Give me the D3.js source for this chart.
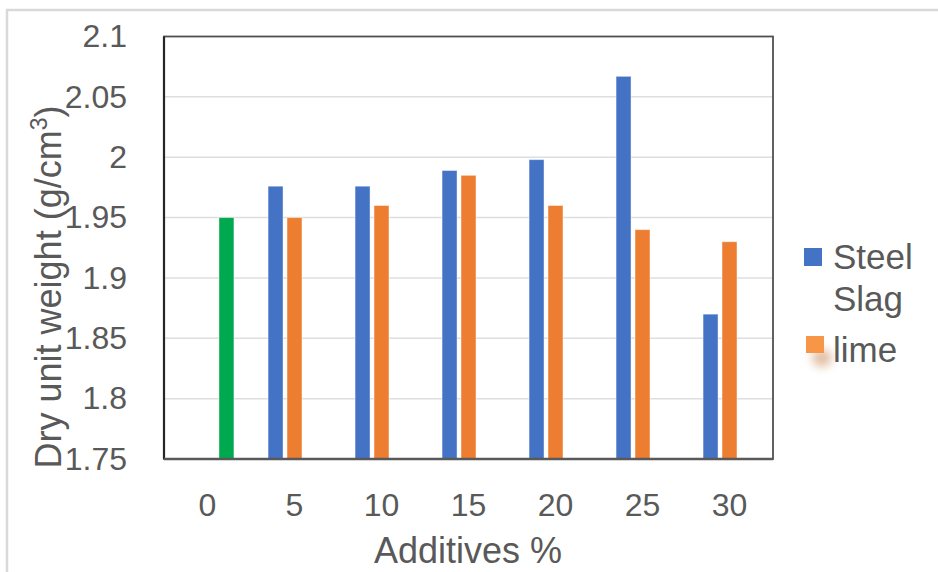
<!DOCTYPE html>
<html>
<head>
<meta charset="utf-8">
<script src="https://cdn.jsdelivr.net/npm/d3@7"></script>
<style>
  html, body { margin: 0; padding: 0; background: #fff; }
  svg { display: block; font-family: "Liberation Sans", Arial, sans-serif; }
</style>
</head>
<body>
<svg id="chart" width="938" height="572"></svg>
<script>
// Additive content (%) on the x axis
const categories = ["0", "5", "10", "15", "20", "25", "30"];
// Dry unit weight (g/cm3) per mix
const steelSlag = [null, 1.976, 1.976, 1.989, 1.998, 2.067, 1.87];
const lime      = [null, 1.95, 1.96, 1.985, 1.96, 1.94, 1.93];
const control   = [1.95, null, null, null, null, null, null];
const yTicks = [1.75, 1.8, 1.85, 1.9, 1.95, 2, 2.05, 2.1];
const seriesNames = ["Steel Slag", "lime", "control"];
const seriesColors = { "Steel Slag": "#4472C4", "lime": "#ED7D31", "control": "#00A84F" };

const svg = d3.select("#chart");
const plot = { left: 164, right: 773, top: 36.5, bottom: 459 };

// outer chart border (right and bottom sides fall outside the view)
svg.append("rect")
  .attr("x", 7).attr("y", 10).attr("width", 1000).attr("height", 700)
  .attr("fill", "none").attr("stroke", "#d9d9d9").attr("stroke-width", 2.5);

const x = d3.scaleBand().domain(categories).range([plot.left, plot.right]).padding(0);
const xs = d3.scaleBand().domain(seriesNames).range([0, x.bandwidth()])
  .paddingInner(0.21).paddingOuter(0.9);
const y = d3.scaleLinear().domain([1.75, 2.1]).range([plot.bottom, plot.top]);

// horizontal gridlines
svg.append("g").selectAll("line").data(yTicks.slice(1, -1)).join("line")
  .attr("x1", plot.left).attr("x2", plot.right)
  .attr("y1", d => y(d)).attr("y2", d => y(d))
  .attr("stroke", "#dedede").attr("stroke-width", 1.5);

// bars
const rows = [];
categories.forEach((c, i) => {
  [["Steel Slag", steelSlag], ["lime", lime], ["control", control]].forEach(([name, arr]) => {
    if (arr[i] != null) rows.push({ cat: c, series: name, value: arr[i] });
  });
});
svg.append("g").selectAll("rect").data(rows).join("rect")
  .attr("x", d => x(d.cat) + xs(d.series))
  .attr("width", xs.bandwidth())
  .attr("y", d => y(d.value))
  .attr("height", d => y(1.75) - y(d.value))
  .attr("fill", d => seriesColors[d.series])
  .attr("stroke", "rgba(255,255,255,0.45)")
  .attr("stroke-width", 1);

// plot frame
svg.append("rect")
  .attr("x", plot.left).attr("y", plot.top)
  .attr("width", plot.right - plot.left).attr("height", plot.bottom - plot.top)
  .attr("fill", "none").attr("stroke", "#505050").attr("stroke-width", 1.8);
svg.append("line")
  .attr("x1", plot.left).attr("x2", plot.left)
  .attr("y1", plot.top).attr("y2", plot.bottom)
  .attr("stroke", "#262626").attr("stroke-width", 2.2);
svg.append("line")
  .attr("x1", plot.left).attr("x2", plot.right)
  .attr("y1", plot.bottom).attr("y2", plot.bottom)
  .attr("stroke", "#595959").attr("stroke-width", 2.5);

// y tick labels
const yAxis = d3.axisLeft(y).tickValues(yTicks).tickSize(0).tickPadding(0)
  .tickFormat(d => String(d));
const gy = svg.append("g").attr("transform", `translate(127,0)`).call(yAxis);
gy.select(".domain").remove();
gy.selectAll("text").attr("font-size", 32).attr("fill", "#595959")
  .attr("font-family", "Liberation Sans, Arial, sans-serif");

// x tick labels
const xAxis = d3.axisBottom(x).tickSize(0).tickPadding(0);
const gx = svg.append("g").attr("transform", `translate(0,${plot.bottom + 34})`).call(xAxis);
gx.select(".domain").remove();
gx.selectAll("text").attr("font-size", 32).attr("fill", "#595959")
  .attr("font-family", "Liberation Sans, Arial, sans-serif");

// axis titles
svg.append("text")
  .attr("x", 468).attr("y", 563)
  .attr("text-anchor", "middle").attr("font-size", 36).attr("fill", "#595959")
  .text("Additives %");

const yt = svg.append("text")
  .attr("transform", "translate(61,287) rotate(-90)")
  .attr("text-anchor", "middle").attr("font-size", 36).attr("fill", "#595959");
yt.append("tspan").text("Dry unit weight (g/cm");
yt.append("tspan").attr("font-size", 23).attr("dy", -14).text("3");
yt.append("tspan").attr("dy", 14).text(")");

// legend
const defs = svg.append("defs");
defs.append("filter").attr("id", "soft").attr("x", "-100%").attr("y", "-100%")
  .attr("width", "300%").attr("height", "300%")
  .append("feGaussianBlur").attr("stdDeviation", 5);

const legend = svg.append("g");
legend.append("rect").attr("x", 804).attr("y", 248).attr("width", 18).attr("height", 18)
  .attr("fill", seriesColors["Steel Slag"]);
legend.append("text").attr("x", 833).attr("y", 269)
  .attr("font-size", 35).attr("fill", "#595959").text("Steel");
legend.append("text").attr("x", 833).attr("y", 311)
  .attr("font-size", 35).attr("fill", "#595959").text("Slag");
legend.append("ellipse").attr("cx", 822).attr("cy", 358).attr("rx", 10).attr("ry", 9)
  .attr("fill", "#c98a5a").attr("opacity", 0.55).attr("filter", "url(#soft)");
legend.append("rect").attr("x", 806).attr("y", 336).attr("width", 18).attr("height", 17)
  .attr("fill", "#F79646");
legend.append("text").attr("x", 833).attr("y", 362)
  .attr("font-size", 35).attr("fill", "#595959").text("lime");
</script>
</body>
</html>
